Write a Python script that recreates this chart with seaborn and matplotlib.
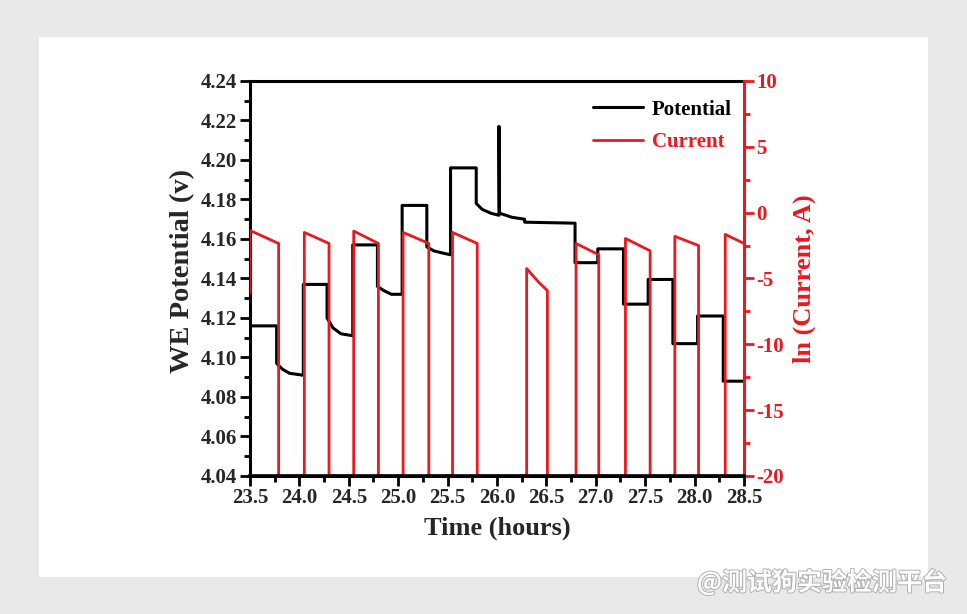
import matplotlib
matplotlib.use("Agg")
from matplotlib import pyplot as plt
from matplotlib.ticker import MultipleLocator, FormatStrFormatter
from matplotlib.patches import Rectangle
from matplotlib.lines import Line2D
import matplotlib.patheffects as pe
import pandas as pd
import seaborn as sns

# WE potential trace (hours, V)
pot_time = [23.50, 23.77, 23.77, 23.83, 23.90, 24.04, 24.04, 24.28, 24.28, 24.34,
            24.42, 24.54, 24.54, 24.79, 24.79, 24.85, 24.93, 25.04, 25.04, 25.29,
            25.29, 25.36, 25.44, 25.53, 25.53, 25.79, 25.79, 25.85, 25.94, 26.02,
            26.02, 26.025, 26.03, 26.15, 26.28, 26.28, 26.79, 26.79, 27.02, 27.02,
            27.28, 27.28, 27.53, 27.53, 27.78, 27.78, 28.03, 28.03, 28.29, 28.29,
            28.50]
pot_value = [4.116, 4.116, 4.097, 4.094, 4.092, 4.091, 4.137, 4.137, 4.120, 4.115,
             4.112, 4.111, 4.157, 4.157, 4.136, 4.134, 4.132, 4.132, 4.177, 4.177,
             4.156, 4.154, 4.153, 4.152, 4.196, 4.196, 4.178, 4.175, 4.173, 4.172,
             4.217, 4.174, 4.173, 4.171, 4.170, 4.1685, 4.168, 4.148, 4.148, 4.155,
             4.155, 4.127, 4.127, 4.1395, 4.1395, 4.107, 4.107, 4.121, 4.121, 4.088,
             4.088]

# ln(current) trace (hours, ln A)
cur_time = [23.50, 23.50, 23.79, 23.79, 24.05, 24.05, 24.30, 24.30, 24.55, 24.55,
            24.80, 24.80, 25.05, 25.05, 25.31, 25.31, 25.55, 25.55, 25.80, 25.80,
            26.30, 26.30, 26.42, 26.51, 26.51, 26.80, 26.80, 27.03, 27.03, 27.30,
            27.30, 27.55, 27.55, 27.80, 27.80, 28.04, 28.04, 28.31, 28.31, 28.50]
cur_value = [-6.1, -1.35, -2.34, -20, -20, -1.5, -2.34, -20, -20, -1.4,
             -2.34, -20, -20, -1.5, -2.34, -20, -20, -1.5, -2.34, -20,
             -20, -4.24, -5.27, -5.92, -20, -20, -2.34, -3.2, -20, -20,
             -1.96, -2.9, -20, -20, -1.8, -2.5, -20, -20, -1.65, -2.34]

x_ticks = [23.5, 24.0, 24.5, 25.0, 25.5, 26.0, 26.5, 27.0, 27.5, 28.0, 28.5]
pot_ticks = [4.04, 4.06, 4.08, 4.10, 4.12, 4.14, 4.16, 4.18, 4.20, 4.22, 4.24]
cur_ticks = [-20, -15, -10, -5, 0, 5, 10]

RED = "#e8191f"


def main():
    sns.set_theme(style="ticks")
    plt.rcParams['font.family'] = ['Liberation Serif', 'DejaVu Serif']
    plt.rcParams['font.weight'] = 'bold'
    plt.rcParams['axes.unicode_minus'] = False

    fig = plt.figure(figsize=(9.67, 6.14), dpi=100, facecolor="#e9e9e9")
    fig.patches.append(Rectangle((39 / 967, 1 - 577 / 614), 889 / 967, 540 / 614,
                                 transform=fig.transFigure, facecolor="white",
                                 edgecolor="none", zorder=-5))

    ax = fig.add_axes([0.2585, 0.2248, 0.5109, 0.6433])
    ax.set_facecolor("white")
    ax2 = ax.twinx()

    df_pot = pd.DataFrame({"time": pot_time, "potential": pot_value})
    df_cur = pd.DataFrame({"time": cur_time, "current": cur_value})

    sns.lineplot(data=df_pot, x="time", y="potential", ax=ax, color="black",
                 lw=2.2, estimator=None, sort=False)
    sns.lineplot(data=df_cur, x="time", y="current", ax=ax2, color=RED,
                 lw=2.0, estimator=None, sort=False)

    ax.set_xlim(23.5, 28.5)
    ax.set_ylim(4.04, 4.24)
    ax2.set_ylim(-20, 10)

    ax.set_xticks(x_ticks)
    ax.set_yticks(pot_ticks)
    ax2.set_yticks(cur_ticks)
    ax.xaxis.set_minor_locator(MultipleLocator(0.25))
    ax.yaxis.set_minor_locator(MultipleLocator(0.01))
    ax2.yaxis.set_minor_locator(MultipleLocator(2.5))
    ax.xaxis.set_major_formatter(FormatStrFormatter("%.1f"))
    ax.yaxis.set_major_formatter(FormatStrFormatter("%.2f"))

    ax.set_xlabel("Time (hours)", fontsize=19, fontweight="bold", labelpad=6)
    ax.set_ylabel("WE Potential (v)", fontsize=20.5, fontweight="bold")
    ax.yaxis.set_label_coords(-0.112, 0.52)
    ax2.set_ylabel("ln (Current, A)", fontsize=19, fontweight="bold",
                   color=RED, labelpad=6)

    for sp in ["left", "bottom", "top"]:
        ax.spines[sp].set_linewidth(2.2)
        ax.spines[sp].set_color("black")
    ax.spines["right"].set_visible(False)
    # ax2 sits on top, so its own black bottom spine hides the red baseline
    ax2.spines["left"].set_visible(False)
    ax2.spines["top"].set_visible(False)
    ax2.spines["bottom"].set_linewidth(2.6)
    ax2.spines["bottom"].set_color("black")
    ax2.spines["right"].set_linewidth(2.2)
    ax2.spines["right"].set_color(RED)

    ax.tick_params(axis="both", which="major", length=7, width=2, labelsize=15,
                   color="black", pad=2)
    ax.tick_params(axis="both", which="minor", length=4, width=2, color="black")
    ax.tick_params(axis="x", which="both", top=False)
    ax2.tick_params(axis="y", which="major", length=7, width=2, labelsize=15,
                    colors=RED, pad=2)
    ax2.tick_params(axis="y", which="minor", length=4, width=2, colors=RED)
    for lab in ax.get_xticklabels() + ax.get_yticklabels() + ax2.get_yticklabels():
        lab.set_fontweight("bold")

    handles = [Line2D([], [], color="black", lw=2.2),
               Line2D([], [], color=RED, lw=2.0)]
    leg = ax2.legend(handles, ["Potential", "Current"], loc="upper right",
                     frameon=False, fontsize=15, handlelength=2.4,
                     labelcolor=["black", RED], bbox_to_anchor=(1.013, 1.0),
                     labelspacing=0.6, handletextpad=0.4)
    for t in leg.get_texts():
        t.set_fontweight("bold")

    fig.text(947 / 967, 1 - 582 / 614, "@测试狗实验检测平台", ha="right", va="center",
             fontsize=18, color="white",
             family=["Noto Sans CJK SC", "DejaVu Sans"],
             path_effects=[pe.withStroke(linewidth=1.4, foreground="#b0b0b0")])

    fig.savefig("out.png", dpi=100, facecolor=fig.get_facecolor())


if __name__ == "__main__":
    main()
